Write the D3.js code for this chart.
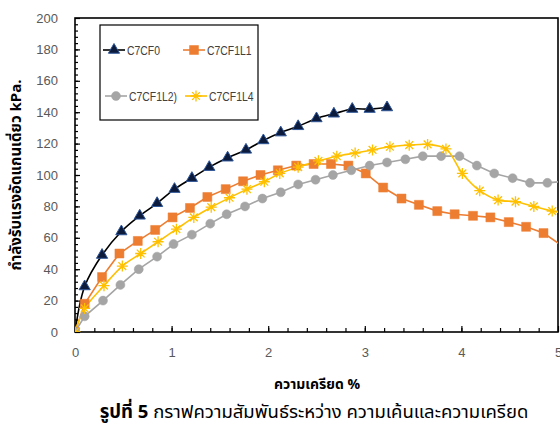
<!DOCTYPE html>
<html>
<head>
<meta charset="utf-8">
<script src="https://cdn.jsdelivr.net/npm/d3@7"></script>
<style>
  body { margin: 0; background: #fff; }
  text { font-family: "Noto Sans Thai", "Noto Sans", "DejaVu Sans", sans-serif; }
</style>
</head>
<body>
<div id="figure-container"></div>
<script>
// strain (%) and stress (kPa)
var strainF0 = [0, 0.10, 0.28, 0.48, 0.67, 0.85, 1.03, 1.21, 1.39, 1.58, 1.77, 1.95, 2.13, 2.31, 2.50, 2.68, 2.87, 3.05, 3.23];
var stressF0 = [0, 29, 49, 64, 74, 82, 91, 98, 105, 111, 116, 122, 127, 131, 136, 139, 142, 142, 143];

var strainL1 = [0, 0.10, 0.28, 0.46, 0.65, 0.83, 1.01, 1.19, 1.37, 1.56, 1.74, 1.92, 2.10, 2.29, 2.47, 2.65, 2.83, 3.01, 3.19, 3.38, 3.56, 3.75, 3.93, 4.12, 4.30, 4.49, 4.67, 4.85, 5.04];
var stressL1 = [0, 18, 35, 50, 58, 65, 73, 79, 86, 91, 96, 100, 103, 106, 107, 107, 106, 101, 92, 85, 81, 77, 75, 74, 73, 70, 67, 63, 55];

var strainL2 = [0, 0.10, 0.29, 0.47, 0.66, 0.85, 1.02, 1.21, 1.40, 1.57, 1.76, 1.94, 2.13, 2.31, 2.49, 2.67, 2.86, 3.05, 3.23, 3.42, 3.60, 3.79, 3.98, 4.16, 4.34, 4.53, 4.71, 4.89, 5.07];
var stressL2 = [0, 10, 20, 30, 40, 48, 56, 62, 69, 75, 80, 85, 89, 94, 97, 100, 103, 106, 108, 110, 112, 112, 112, 106, 101, 98, 95, 95, 96];

var strainL4 = [0, 0.10, 0.30, 0.49, 0.68, 0.86, 1.05, 1.23, 1.41, 1.60, 1.78, 1.96, 2.12, 2.31, 2.52, 2.71, 2.90, 3.08, 3.26, 3.46, 3.65, 3.84, 4.01, 4.19, 4.38, 4.56, 4.75, 4.94, 5.12];
var stressL4 = [0, 15, 29.5, 42, 50, 57.5, 65.5, 73, 79.5, 85.5, 91, 95.7, 101, 105, 109, 112, 114, 116, 118, 119, 119.5, 116.6, 101, 90, 84, 83, 80, 77, 75];

var seriesNames = ['C7CF0', 'C7CF1L1', 'C7CF1L2)', 'C7CF1L4'];
var xTicks = [0, 1, 2, 3, 4, 5];
var yTicks = [0, 20, 40, 60, 80, 100, 120, 140, 160, 180, 200];

var xTitle = 'ความเครียด %';
var yTitle = 'กำลังรับแรงอัดแกนเดี่ยว  kPa.';
var captionBold = 'รูปที่ 5';
var captionRest = ' กราฟความสัมพันธ์ระหว่าง ความเค้นและความเครียด';

var margin = {top: 18, right: 2, bottom: 96, left: 75};
var fullWidth = 560, fullHeight = 428;
var width = fullWidth - margin.left - margin.right;
var height = fullHeight - margin.top - margin.bottom;

var xScale = d3.scaleLinear().domain([0, 5]).range([0, width]);
var yScale = d3.scaleLinear().domain([0, 200]).range([height, 0]);

var zip = (xs, ys) => xs.map((x, i) => ({x: x, y: ys[i]}));

var series = [
  {name: seriesNames[0], data: zip(strainF0, stressF0), color: '#000000', fill: '#0c1a3c', stroke: '#2e5597', shape: 'triangle', curve: d3.curveCatmullRom.alpha(0.5)},
  {name: seriesNames[1], data: zip(strainL1, stressL1), color: '#ED7D31', fill: '#ED7D31', stroke: '#ED7D31', shape: 'square', curve: d3.curveLinear},
  {name: seriesNames[2], data: zip(strainL2, stressL2), color: '#A5A5A5', fill: '#A5A5A5', stroke: '#A5A5A5', shape: 'circle', curve: d3.curveLinear},
  {name: seriesNames[3], data: zip(strainL4, stressL4), color: '#FFC000', fill: 'none', stroke: '#FFC000', shape: 'star', curve: d3.curveCatmullRom.alpha(0.5)}
];

var svg = d3.select('#figure-container')
  .append('svg')
  .attr('width', fullWidth)
  .attr('height', fullHeight);

var g = svg.append('g')
  .attr('transform', `translate(${margin.left},${margin.top})`);

g.append('defs').append('clipPath')
  .attr('id', 'clip')
  .append('rect')
  .attr('width', width)
  .attr('height', height);

// tick marks, pointing inwards
var xAxis = d3.axisBottom(xScale).tickValues(xTicks).tickSizeInner(-6).tickSizeOuter(0).tickFormat(d3.format('d')).tickPadding(16);
var xMinor = d3.axisBottom(xScale).tickValues(d3.range(0.2, 5, 0.2)).tickSizeInner(-4).tickSizeOuter(0).tickFormat('');
var yAxis = d3.axisLeft(yScale).tickValues(yTicks).tickSizeInner(-5).tickSizeOuter(0).tickPadding(17);
var yMinor = d3.axisLeft(yScale).tickValues(d3.range(4, 200, 4)).tickSizeInner(-3).tickSizeOuter(0).tickFormat('');

g.append('g').attr('class', 'axis x').attr('transform', `translate(0,${height})`).call(xMinor);
g.append('g').attr('class', 'axis x').attr('transform', `translate(0,${height})`).call(xAxis);
g.append('g').attr('class', 'axis y').call(yMinor);
g.append('g').attr('class', 'axis y').call(yAxis);

g.selectAll('.axis .domain').remove();
g.selectAll('.axis line').attr('stroke', '#000').attr('stroke-width', 1.2);
g.selectAll('.axis text')
  .attr('fill', '#595959')
  .style('font-family', '"Liberation Sans", sans-serif')
  .style('font-size', '13px');

// frame
g.append('rect')
  .attr('width', width)
  .attr('height', height)
  .attr('fill', 'none')
  .attr('stroke', '#000')
  .attr('stroke-width', 1.6);

function marker(sel, s, size) {
  if (s.shape === 'star') {
    var r = size / 2;
    var p = d3.path();
    for (var k = 0; k < 4; k++) {
      var a = k * Math.PI / 4;
      p.moveTo(-r * Math.cos(a), -r * Math.sin(a));
      p.lineTo(r * Math.cos(a), r * Math.sin(a));
    }
    sel.append('path').attr('d', p.toString())
      .attr('stroke', s.stroke).attr('stroke-width', 1.3).attr('fill', 'none');
  } else {
    var type = s.shape === 'triangle' ? d3.symbolTriangle : s.shape === 'square' ? d3.symbolSquare : d3.symbolCircle;
    var area = s.shape === 'circle' ? Math.PI * size * size / 4 : s.shape === 'square' ? size * size : size * size * 0.45;
    sel.append('path').attr('d', d3.symbol().type(type).size(area)())
      .attr('fill', s.fill).attr('stroke', s.stroke).attr('stroke-width', s.shape === 'triangle' ? 1 : 0.5);
  }
}

var sizes = {triangle: 11, square: 9, circle: 9, star: 11};

var dataArea = g.append('g').attr('clip-path', 'url(#clip)');

series.forEach(function(s) {
  var line = d3.line()
    .x(d => xScale(d.x))
    .y(d => yScale(d.y))
    .curve(s.curve);
  dataArea.append('path')
    .datum(s.data)
    .attr('fill', 'none')
    .attr('stroke', s.color)
    .attr('stroke-width', 1.6)
    .attr('d', line);
});

series.forEach(function(s) {
  dataArea.append('g')
    .selectAll('g')
    .data(s.data.filter(d => d.x <= 5))
    .enter()
    .append('g')
    .attr('transform', d => `translate(${xScale(d.x)},${yScale(d.y)})`)
    .each(function() { marker(d3.select(this), s, sizes[s.shape]); });
});

// legend
var legend = svg.append('g').attr('transform', 'translate(100,25)');
legend.append('rect')
  .attr('width', 158)
  .attr('height', 95)
  .attr('fill', '#fff')
  .attr('stroke', '#000')
  .attr('stroke-width', 1.2);

var legendPos = [[3, 25], [83, 25], [5, 71], [85, 71]];
series.forEach(function(s, i) {
  var lx = legendPos[i][0], ly = legendPos[i][1];
  var item = legend.append('g').attr('transform', `translate(${lx},${ly})`);
  item.append('line').attr('x1', 0).attr('x2', 22).attr('stroke', s.color).attr('stroke-width', 1.6);
  var m = item.append('g').attr('transform', 'translate(11,0)');
  marker(m, s, sizes[s.shape]);
  // narrow face, like the original's light condensed font
  item.append('text')
    .attr('transform', 'translate(24,4.5) scale(0.8,1)')
    .attr('fill', '#404040')
    .style('font-family', '"Liberation Sans", sans-serif')
    .style('font-size', '13px')
    .text(s.name);
});

// titles
svg.append('text')
  .attr('x', 317)
  .attr('y', 389)
  .attr('text-anchor', 'middle')
  .style('font-size', '14px')
  .style('font-weight', 'bold')
  .text(xTitle);

svg.append('text')
  .attr('transform', 'translate(21,175) rotate(-90)')
  .attr('text-anchor', 'middle')
  .style('font-size', '15px')
  .style('font-weight', 'bold')
  .text(yTitle);

var cap = svg.append('text')
  .attr('x', 314)
  .attr('y', 418)
  .attr('text-anchor', 'middle')
  .style('font-size', '18.5px');
cap.append('tspan').style('font-weight', 'bold').text(captionBold);
cap.append('tspan').text(captionRest);
</script>
</body>
</html>
